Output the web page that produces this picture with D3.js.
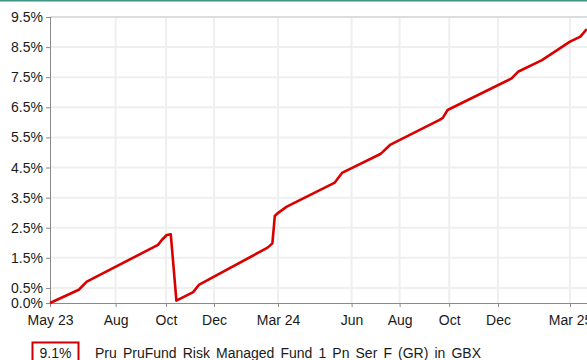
<!DOCTYPE html>
<html>
<head>
<meta charset="utf-8">
<script src="https://cdn.jsdelivr.net/npm/d3@7"></script>
<style>
  html, body { margin: 0; padding: 0; background: #fff; }
  svg { display: block; font-family: "Liberation Sans", Arial, sans-serif; }
</style>
</head>
<body>
<svg id="chart" width="587" height="360"></svg>
<script>
// Cumulative growth (%) of the fund since the start date
const dates = [
  "2023-05-22", "2023-06-27", "2023-07-07", "2023-10-04", "2023-10-09",
  "2023-10-15", "2023-10-20", "2023-10-27", "2023-11-17", "2023-11-24",
  "2024-02-18", "2024-02-24", "2024-02-27", "2024-03-01", "2024-03-13",
  "2024-05-12", "2024-05-21", "2024-07-08", "2024-07-11", "2024-07-20",
  "2024-09-20", "2024-09-24", "2024-09-30", "2024-12-19", "2024-12-27",
  "2025-01-26", "2025-03-02", "2025-03-15", "2025-03-23"
];
const growth = [
  0.00, 0.44, 0.71, 1.93, 2.10,
  2.26, 2.28, 0.08, 0.36, 0.60,
  1.84, 1.98, 2.89, 2.97, 3.20,
  4.00, 4.32, 4.95, 5.02, 5.25,
  6.08, 6.15, 6.41, 7.46, 7.68,
  8.07, 8.68, 8.85, 9.10
];
const latestLabel = "9.1%";
const seriesName = "Pru PruFund Risk Managed Fund 1 Pn Ser F (GR) in GBX";

// Axis ticks
const xTickDates = [
  "2023-05-22", "2023-08-12", "2023-10-14", "2023-12-13", "2024-03-02",
  "2024-06-02", "2024-08-01", "2024-10-02", "2024-12-02", "2025-03-02"
];
const xTickLabels = ["May 23", "Aug", "Oct", "Dec", "Mar 24", "Jun", "Aug", "Oct", "Dec", "Mar 25"];
const yTicks = [0.0, 0.5, 1.5, 2.5, 3.5, 4.5, 5.5, 6.5, 7.5, 8.5, 9.5];
const yTickLabels = ["0.0%", "0.5%", "1.5%", "2.5%", "3.5%", "4.5%", "5.5%", "6.5%", "7.5%", "8.5%", "9.5%"];

const parse = d3.utcParse("%Y-%m-%d");
const points = dates.map((d, i) => ({ date: parse(d), value: growth[i] }));

const svg = d3.select("#chart");
const plot = { left: 50, top: 17, bottom: 303 };

const x = d3.scaleUtc()
  .domain([parse("2023-05-22"), parse("2025-03-24")])
  .range([plot.left, plot.left + 672 * 0.8]);
const y = d3.scaleLinear()
  .domain([0, 9.5])
  .range([plot.bottom, plot.top]);

// Header rule
svg.append("rect").attr("x", 0).attr("y", 0).attr("width", 587).attr("height", 1.5)
  .attr("fill", "#3f9486");

// Grid
const grid = svg.append("g");
grid.selectAll("line.v").data(xTickDates.slice(1)).join("line")
  .attr("x1", d => x(parse(d))).attr("x2", d => x(parse(d)))
  .attr("y1", plot.top).attr("y2", plot.bottom)
  .attr("stroke", "#efefef").attr("stroke-width", 2);
grid.selectAll("line.h").data(yTicks.slice(1)).join("line")
  .attr("x1", plot.left).attr("x2", 587)
  .attr("y1", d => y(d)).attr("y2", d => y(d))
  .attr("stroke", d => d === 9.5 ? "#dcdcdc" : "#efefef")
  .attr("stroke-width", 2);

// Y axis
const yAxis = d3.axisLeft(y)
  .tickValues(yTicks)
  .tickFormat((d, i) => yTickLabels[i])
  .tickSize(4).tickPadding(3);
const gy = svg.append("g").attr("transform", `translate(${plot.left},0)`).call(yAxis);
gy.select(".domain").attr("stroke", "#8a8a8a").attr("d", `M0.5,${plot.top}V${plot.bottom}`);
gy.selectAll(".tick line").attr("stroke", "#8a8a8a");
gy.selectAll(".tick text").attr("fill", "#1a1a1a")
  .style("font-size", "14px").style("font-family", "'Liberation Sans', Arial, sans-serif");

// X axis
const xAxis = d3.axisBottom(x)
  .tickValues(xTickDates.map(parse))
  .tickFormat((d, i) => xTickLabels[i])
  .tickSize(4).tickPadding(8);
const gx = svg.append("g").attr("transform", `translate(0,${plot.bottom})`).call(xAxis);
gx.select(".domain").attr("stroke", "#8a8a8a").attr("d", `M${plot.left},0.5H587`);
gx.selectAll(".tick line").attr("stroke", "#8a8a8a");
gx.selectAll(".tick text").attr("fill", "#1a1a1a")
  .style("font-size", "14px").style("font-family", "'Liberation Sans', Arial, sans-serif");

// Series line
const line = d3.line().x(d => x(d.date)).y(d => y(d.value));
svg.append("path").datum(points)
  .attr("d", line)
  .attr("fill", "none")
  .attr("stroke", "#d90000")
  .attr("stroke-width", 2.6)
  .attr("stroke-linejoin", "round");

// Legend
const legend = svg.append("g");
legend.append("rect")
  .attr("x", 32.5).attr("y", 342.5).attr("width", 46).attr("height", 30)
  .attr("fill", "#fff").attr("stroke", "#cc0000").attr("stroke-width", 2);
legend.append("text")
  .attr("x", 55.5).attr("y", 357.5).attr("text-anchor", "middle")
  .attr("fill", "#1a1a1a").style("font-size", "14px")
  .text(latestLabel);
legend.append("text")
  .attr("x", 95).attr("y", 357.5)
  .attr("fill", "#1a1a1a").style("font-size", "14px")
  .style("word-spacing", "2.2px")
  .text(seriesName);
</script>
</body>
</html>
